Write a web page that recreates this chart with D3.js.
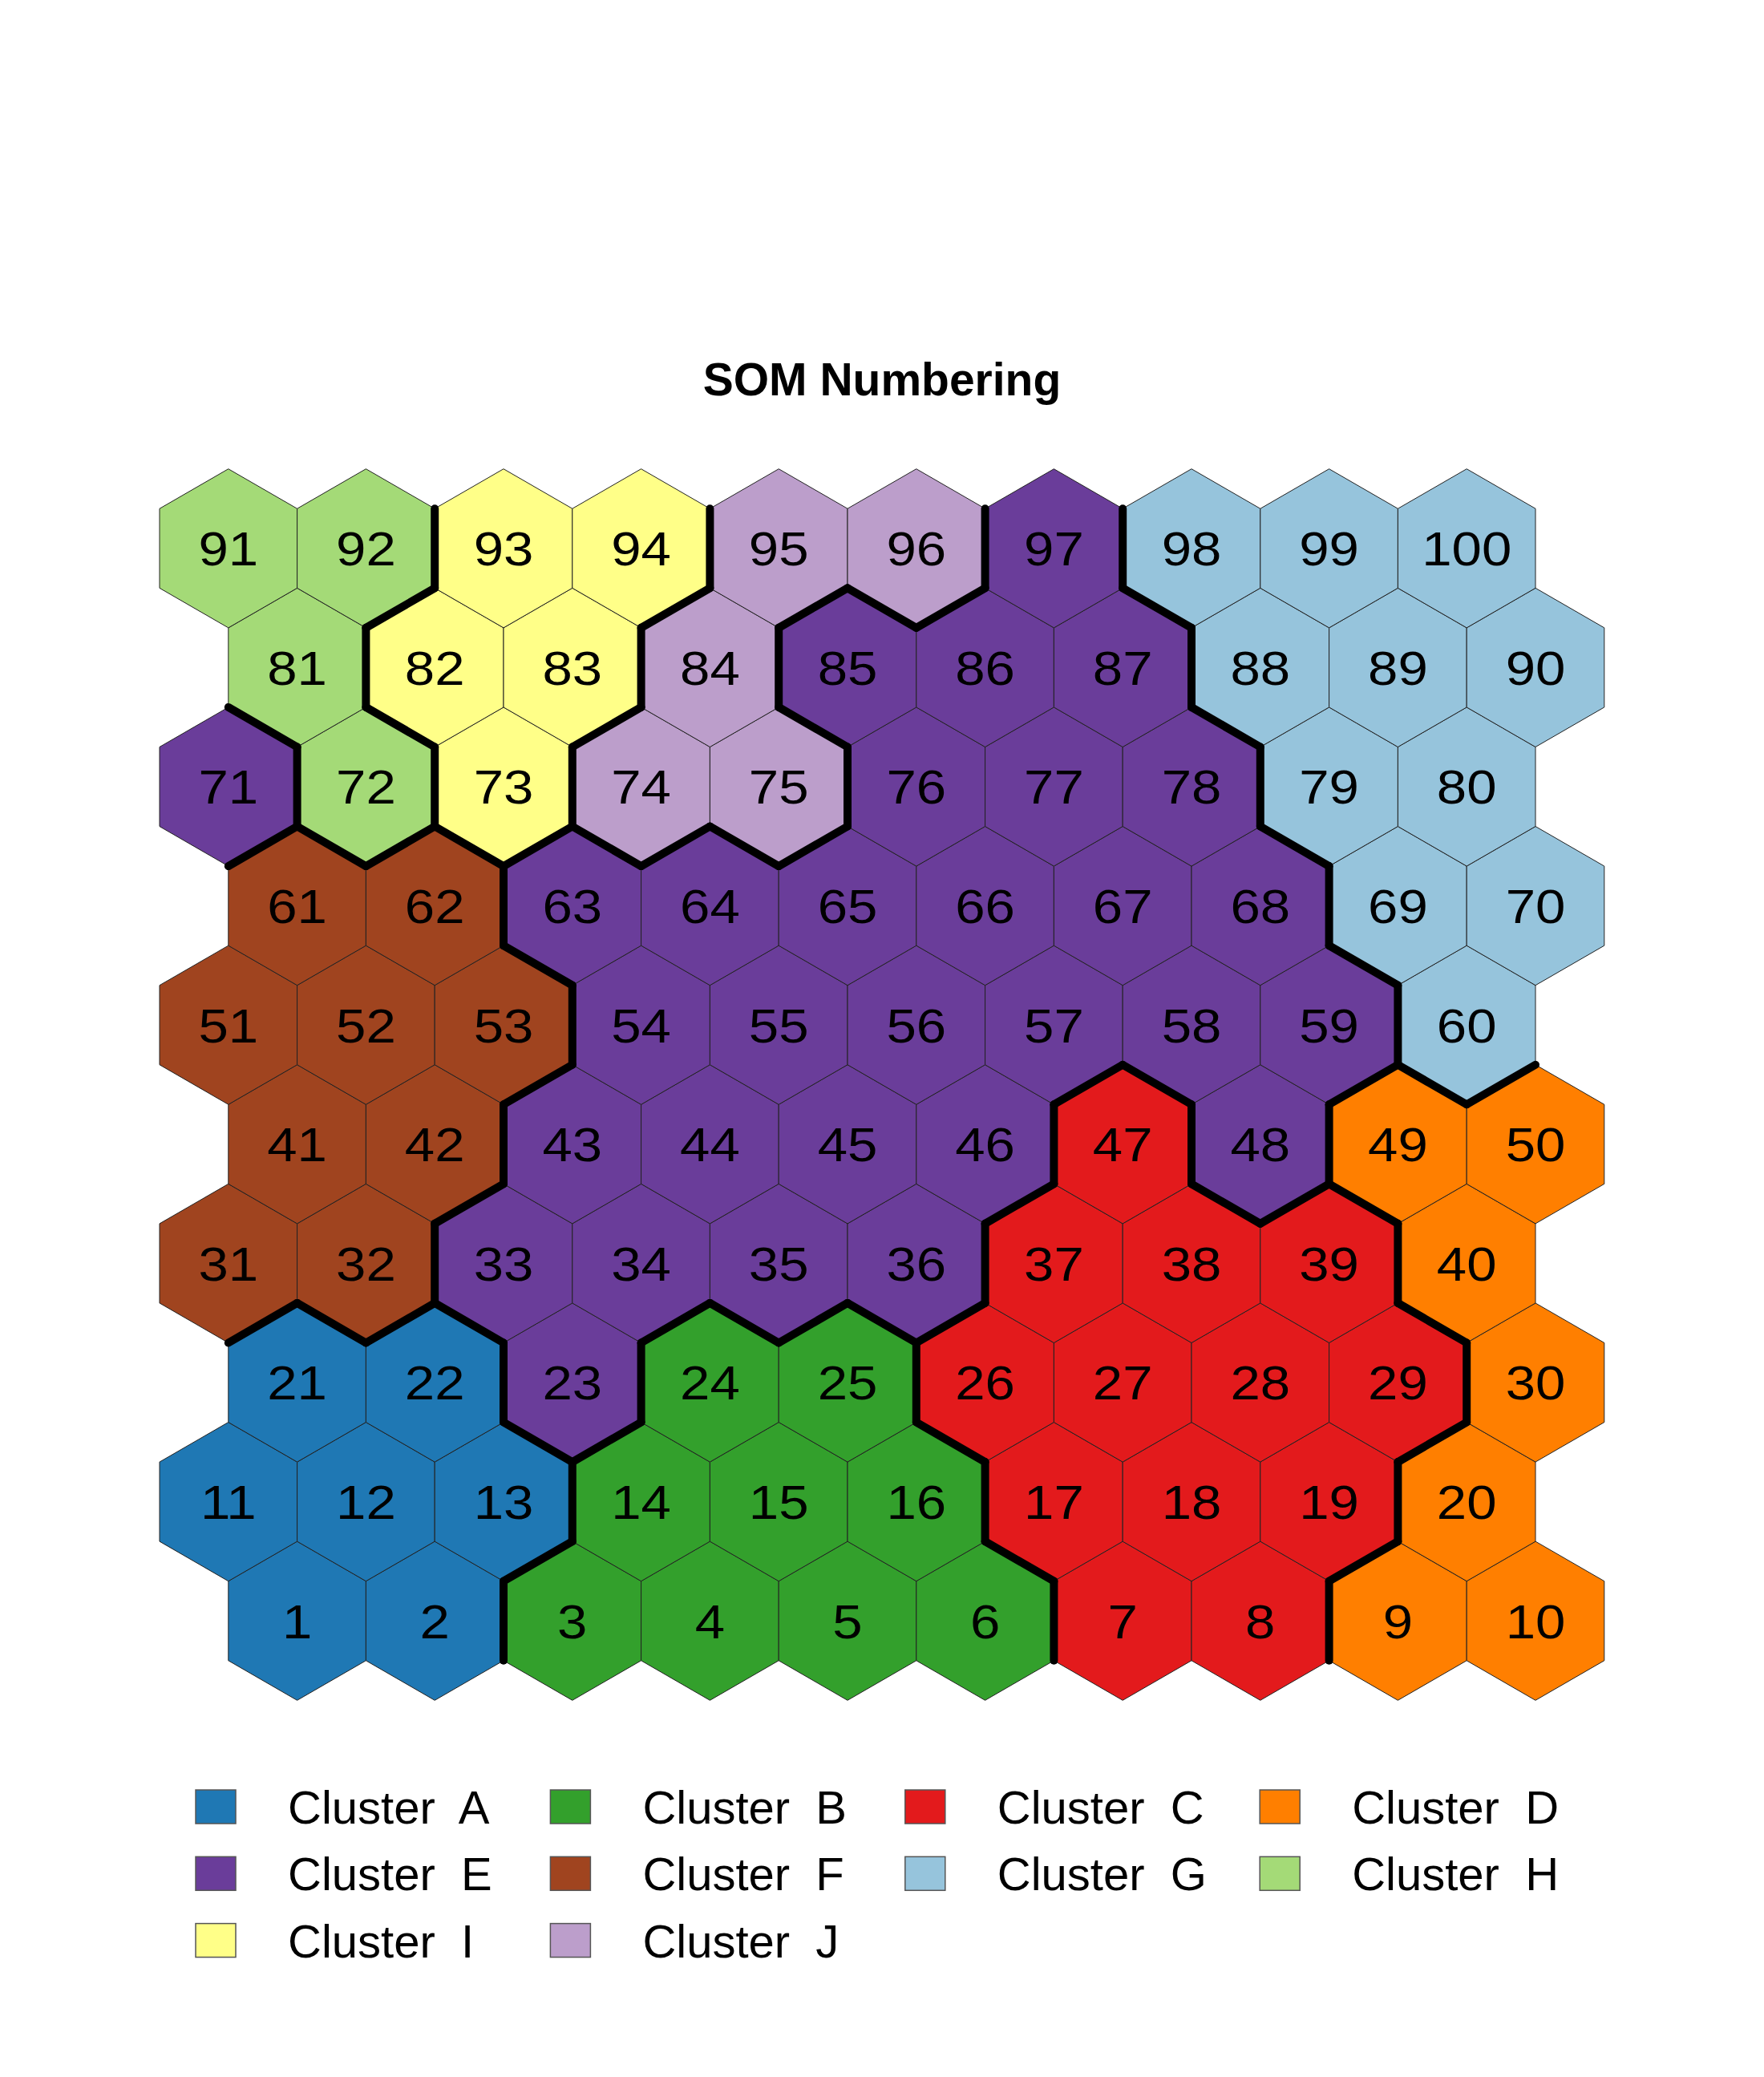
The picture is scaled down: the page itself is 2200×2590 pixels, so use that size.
<!DOCTYPE html>
<html>
<head>
<meta charset="utf-8">
<script src="https://cdn.jsdelivr.net/npm/d3@7"></script>
<style>
  html, body { margin: 0; padding: 0; background: #ffffff; }
  svg { display: block; }
</style>
</head>
<body>
<svg id="chart" width="2200" height="2590"></svg>
<script>
// ---------------- DATA ----------------
const title = "SOM Numbering";
const gridCols = 10;
const gridRows = 10;
const clusterIds = ["A","B","C","D","E","F","G","H","I","J"];
const clusterColors = ["#1F78B4","#33A02C","#E31A1C","#FF7F00","#6A3D9A",
                       "#A0441F","#96C4DC","#A4DA77","#FFFF88","#BC9ECB"];
// cluster of each SOM unit, unit 1..100 (row 1 at the bottom)
const unitClusters = [
  "A","A","B","B","B","B","C","C","D","D",   // 1-10
  "A","A","A","B","B","B","C","C","C","D",   // 11-20
  "A","A","E","B","B","C","C","C","C","D",   // 21-30
  "F","F","E","E","E","E","C","C","C","D",   // 31-40
  "F","F","E","E","E","E","C","E","D","D",   // 41-50
  "F","F","F","E","E","E","E","E","E","G",   // 51-60
  "F","F","E","E","E","E","E","E","G","G",   // 61-70
  "E","H","I","J","J","E","E","E","G","G",   // 71-80
  "H","I","I","J","E","E","E","G","G","G",   // 81-90
  "H","H","I","I","J","J","E","G","G","G"    // 91-100
];
const legendLabels = clusterIds.map(id => "Cluster  " + id);

// ---------------- LAYOUT ----------------
const svg = d3.select("#chart");
const colorScale = d3.scaleOrdinal().domain(clusterIds).range(clusterColors);

const H = Math.sqrt(3) / 2;
const x = d3.scaleLinear().domain([0, gridCols - 0.5]).range([284.8, 284.8 + 9.5 * 171.6]);
const y = d3.scaleLinear().domain([0, (gridRows - 1) * H]).range([2021.2, 683.8]);
const unitPx = x(1) - x(0);
const rad = unitPx / Math.sqrt(3);

const units = unitClusters.map((c, i) => {
  const row = Math.floor(i / gridCols), col = i % gridCols;
  const ux = col + (row % 2 === 0 ? 0.5 : 0);
  const uy = row * H;
  return { id: i + 1, cluster: c, ux, uy, cx: x(ux), cy: y(uy) };
});

function hexPath(cx, cy) {
  const pts = d3.range(6).map(k => {
    const a = Math.PI / 180 * (30 + 60 * k);
    return [cx + rad * Math.cos(a), cy + rad * Math.sin(a)];
  });
  return "M" + pts.map(p => p.join(",")).join("L") + "Z";
}

// title
svg.append("text")
  .attr("x", 1100).attr("y", 492.7)
  .attr("text-anchor", "middle")
  .style("font-family", "'Liberation Sans', Arial, sans-serif")
  .style("font-weight", "bold")
  .style("font-size", "57px")
  .attr("fill", "#000")
  .text(title);

// hexagons
svg.append("g").selectAll("path").data(units).join("path")
  .attr("d", d => hexPath(d.cx, d.cy))
  .attr("fill", d => colorScale(d.cluster))
  .attr("stroke", "#222")
  .attr("stroke-width", 1);

// cluster boundaries
const edges = [];
for (let i = 0; i < units.length; i++) {
  for (let j = i + 1; j < units.length; j++) {
    const a = units[i], b = units[j];
    const dx = b.ux - a.ux, dy = b.uy - a.uy;
    const dist = Math.sqrt(dx * dx + dy * dy);
    if (Math.abs(dist - 1) < 0.01 && a.cluster !== b.cluster) {
      const mx = (a.ux + b.ux) / 2, my = (a.uy + b.uy) / 2;
      const half = 0.5 / Math.sqrt(3);
      const px = -dy / dist, py = dx / dist;
      edges.push({ x1: x(mx + px * half), y1: y(my + py * half),
                   x2: x(mx - px * half), y2: y(my - py * half) });
    }
  }
}
svg.append("g").selectAll("line").data(edges).join("line")
  .attr("x1", d => d.x1).attr("y1", d => d.y1)
  .attr("x2", d => d.x2).attr("y2", d => d.y2)
  .attr("stroke", "#000")
  .attr("stroke-width", 10)
  .attr("stroke-linecap", "round");

// unit labels
const labelSize = 60;
svg.append("g").selectAll("text").data(units).join("text")
  .attr("transform", d => `translate(${d.cx},${d.cy + 0.358 * labelSize}) scale(1.12,1)`)
  .attr("text-anchor", "middle")
  .style("font-family", "'Liberation Sans', Arial, sans-serif")
  .style("font-size", labelSize + "px")
  .attr("fill", "#000")
  .text(d => d.id);

// legend
const legX = d3.scaleLinear().domain([0, 1]).range([244, 686.4]);
const legY = d3.scaleLinear().domain([0, 1]).range([2232, 2315.3]);
const leg = svg.append("g").selectAll("g").data(clusterIds).join("g")
  .attr("transform", (d, i) => `translate(${legX(i % 4)},${legY(Math.floor(i / 4))})`);
leg.append("rect")
  .attr("x", 0).attr("y", 0).attr("width", 50).attr("height", 42)
  .attr("fill", d => colorScale(d))
  .attr("stroke", "#555").attr("stroke-width", 1.5);
leg.append("text")
  .attr("x", 115).attr("y", 42)
  .style("font-family", "'Liberation Sans', Arial, sans-serif")
  .style("font-size", "58px")
  .style("white-space", "pre")
  .attr("fill", "#000")
  .text((d, i) => legendLabels[i]);
</script>
</body>
</html>
